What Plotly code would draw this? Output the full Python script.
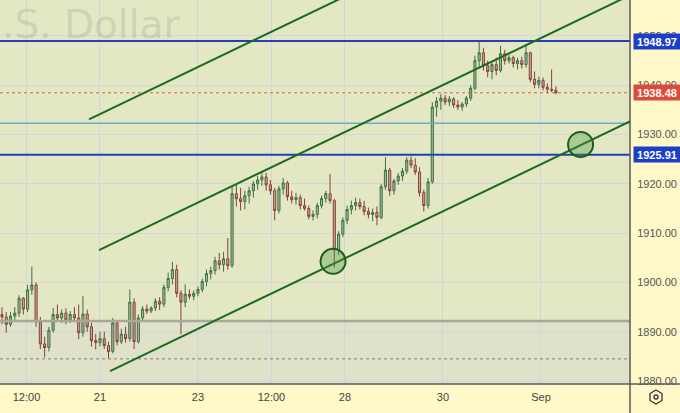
import plotly.graph_objects as go

# ---- data (2-hour bars, index 0 = Aug 21 00:00) ----
bar_index = list(range(-23, 108))

opens = [1893.5, 1893.0, 1891.5, 1893.2, 1893.8, 1896.8, 1894.6, 1898.5, 1899.5, 1892.0,
         1887.5, 1886.8, 1890.3, 1893.5, 1892.8, 1893.8, 1892.4, 1893.5, 1892.8, 1889.8,
         1893.6, 1891.0, 1888.2, 1887.8, 1888.6, 1887.2, 1886.0, 1891.8, 1888.0, 1889.5,
         1888.6, 1896.0, 1888.0, 1892.8, 1894.6, 1894.2, 1894.8, 1896.2, 1895.6, 1899.0,
         1900.8, 1902.6, 1897.8, 1896.0, 1897.6, 1897.2, 1897.8, 1898.6, 1900.2, 1901.8,
         1902.4, 1904.4, 1903.6, 1904.8, 1903.4, 1918.0, 1917.0, 1916.4, 1917.6, 1918.6,
         1920.0, 1920.8, 1921.4, 1919.8, 1918.6, 1914.6, 1919.0, 1920.2, 1917.4, 1916.8,
         1917.2, 1915.6, 1915.0, 1913.4, 1913.8, 1915.6, 1917.0, 1918.0, 1916.6, 1906.6,
         1909.8, 1912.6, 1914.8, 1915.6, 1916.2, 1915.4, 1914.4, 1913.8, 1914.2, 1913.2,
         1919.4, 1922.8, 1918.6, 1920.6, 1921.6, 1922.6, 1924.8, 1923.8, 1922.4, 1918.2,
         1915.6, 1920.4, 1935.6, 1936.8, 1937.4, 1936.6, 1937.2, 1936.0, 1935.6, 1936.2,
         1937.4, 1939.4, 1945.0, 1946.6, 1944.0, 1942.8, 1944.2, 1943.0, 1946.4, 1945.0,
         1945.6, 1944.4, 1945.0, 1944.2, 1946.6, 1941.2, 1940.2, 1941.0, 1939.6, 1939.2, 1939.0]

highs = [1895.0, 1894.0, 1894.0, 1895.0, 1897.4, 1897.0, 1899.5, 1903.2, 1900.0, 1893.0,
         1889.0, 1891.0, 1894.8, 1895.5, 1894.5, 1894.8, 1894.2, 1895.0, 1895.5, 1897.2,
         1894.5, 1891.8, 1889.6, 1890.0, 1890.0, 1888.0, 1892.8, 1892.2, 1890.6, 1891.0,
         1898.6, 1896.8, 1893.5, 1895.2, 1895.5, 1895.2, 1896.8, 1897.0, 1899.6, 1902.0,
         1904.2, 1903.6, 1898.4, 1899.6, 1898.6, 1898.4, 1899.2, 1900.8, 1902.6, 1903.2,
         1905.2, 1906.0, 1906.2, 1909.0, 1919.4, 1920.0, 1919.2, 1918.6, 1919.4, 1920.6,
         1921.6, 1922.6, 1922.2, 1920.8, 1919.2, 1919.6, 1921.2, 1920.6, 1918.6, 1918.2,
         1917.8, 1917.0, 1915.6, 1914.6, 1916.2, 1917.6, 1918.6, 1922.0, 1917.0, 1910.4,
         1913.2, 1915.6, 1916.6, 1917.2, 1917.0, 1916.6, 1915.2, 1915.0, 1915.4, 1920.0,
         1925.4, 1923.2, 1921.0, 1922.2, 1923.2, 1925.4, 1925.6, 1925.2, 1923.4, 1918.8,
         1921.2, 1936.6, 1937.6, 1938.2, 1938.0, 1937.8, 1937.6, 1937.0, 1936.6, 1937.8,
         1940.0, 1946.0, 1949.0, 1947.6, 1945.0, 1944.8, 1945.6, 1948.0, 1947.2, 1946.2,
         1946.0, 1945.6, 1945.8, 1948.4, 1946.8, 1942.8, 1941.8, 1941.6, 1940.4, 1943.2, 1939.8]

lows = [1891.5, 1889.8, 1891.0, 1892.0, 1893.0, 1893.5, 1894.0, 1897.5, 1891.0, 1886.5,
        1884.8, 1886.0, 1889.8, 1892.0, 1891.8, 1891.5, 1891.8, 1892.2, 1888.5, 1889.0,
        1890.0, 1887.0, 1886.4, 1887.0, 1886.5, 1884.6, 1885.6, 1887.2, 1887.5, 1887.8,
        1888.0, 1886.5, 1887.6, 1892.0, 1893.6, 1893.8, 1894.2, 1894.4, 1895.0, 1898.2,
        1899.6, 1897.0, 1889.5, 1895.0, 1896.6, 1896.4, 1897.2, 1898.0, 1899.2, 1900.6,
        1901.6, 1902.6, 1902.2, 1902.6, 1903.0, 1915.4, 1914.6, 1914.8, 1916.0, 1917.2,
        1918.8, 1919.6, 1918.6, 1917.8, 1912.6, 1914.0, 1917.8, 1916.6, 1916.0, 1915.8,
        1914.8, 1914.6, 1912.8, 1912.6, 1913.0, 1915.0, 1916.2, 1916.0, 1903.0, 1905.6,
        1909.2, 1911.8, 1913.8, 1914.6, 1914.8, 1913.6, 1913.0, 1912.4, 1911.6, 1912.8,
        1918.8, 1917.6, 1917.8, 1919.8, 1920.6, 1922.0, 1923.2, 1921.8, 1917.4, 1914.4,
        1915.0, 1920.0, 1933.6, 1935.0, 1936.0, 1935.8, 1935.4, 1935.0, 1934.8, 1935.6,
        1936.8, 1939.0, 1943.4, 1943.0, 1941.6, 1941.2, 1942.0, 1942.6, 1944.2, 1944.4,
        1943.6, 1943.2, 1943.4, 1943.6, 1940.6, 1939.4, 1939.4, 1939.0, 1938.4, 1938.6, 1938.2]

closes = [1893.0, 1891.5, 1893.2, 1893.8, 1896.8, 1894.6, 1898.5, 1899.5, 1892.0, 1887.5,
          1886.8, 1890.3, 1893.5, 1892.8, 1893.8, 1892.4, 1893.5, 1892.8, 1889.8, 1893.6,
          1891.0, 1888.2, 1887.8, 1888.6, 1887.2, 1886.0, 1891.8, 1888.0, 1889.5, 1888.6,
          1896.0, 1888.0, 1892.8, 1894.6, 1894.2, 1894.8, 1896.2, 1895.6, 1899.0, 1900.8,
          1902.6, 1897.8, 1896.0, 1897.6, 1897.2, 1897.8, 1898.6, 1900.2, 1901.8, 1902.4,
          1904.4, 1903.6, 1904.8, 1903.4, 1918.0, 1917.0, 1916.4, 1917.6, 1918.6, 1920.0,
          1920.8, 1921.4, 1919.8, 1918.6, 1914.6, 1919.0, 1920.2, 1917.4, 1916.8, 1917.2,
          1915.6, 1915.0, 1913.4, 1913.8, 1915.6, 1917.0, 1918.0, 1916.6, 1906.6, 1909.8,
          1912.6, 1914.8, 1915.6, 1916.2, 1915.4, 1914.4, 1913.8, 1914.2, 1913.2, 1919.4,
          1922.8, 1918.6, 1920.6, 1921.6, 1922.6, 1924.8, 1923.8, 1922.4, 1918.2, 1915.6,
          1920.4, 1935.6, 1936.8, 1937.4, 1936.6, 1937.2, 1936.0, 1935.6, 1936.2, 1937.4,
          1939.4, 1945.0, 1946.6, 1944.0, 1942.8, 1944.2, 1943.0, 1946.4, 1945.0, 1945.6,
          1944.4, 1945.0, 1944.2, 1946.6, 1941.2, 1940.2, 1941.0, 1939.6, 1939.2, 1939.0, 1938.48]

tick_positions = [-17.25, 0, 23, 40.25, 57.5, 80.5, 103.5]
tick_labels = ["12:00", "21", "23", "12:00", "28", "30", "Sep"]

blue_levels = [1948.97, 1925.91]
teal_level = 1932.3
last_price = 1938.48
gray_level = 1892.2
dotted_level = 1884.5

channel_start_bar = [-2.58, -0.23, 2.35]
channel_start_price = [1933.1, 1906.57, 1882.03]
channel_slope = 0.4148  # price per bar
channel_end_bar = 130

circle_bars = [54.7, 112.8]
circle_prices = [1904.3, 1928.0]

watermark = ".S. Dollar"

# ---- figure ----
FONT = "Liberation Sans"
fig = go.Figure()
fig.add_trace(go.Candlestick(
    x=bar_index, open=opens, high=highs, low=lows, close=closes,
    increasing=dict(line=dict(color="#3d7045", width=1), fillcolor="rgba(165,175,155,0.9)"),
    decreasing=dict(line=dict(color="#8a4038", width=1), fillcolor="rgba(178,168,152,0.9)"),
    whiskerwidth=0, hoverinfo="skip", showlegend=False,
))

shapes = []
shapes.append(dict(type="rect", xref="paper", yref="y", x0=0, x1=1, y0=1870, y1=gray_level,
                   fillcolor="#dfe1c8", line=dict(width=0), layer="below"))
shapes.append(dict(type="line", xref="paper", yref="y", x0=0, x1=1, y0=gray_level, y1=gray_level,
                   line=dict(color="#a9a69a", width=2.5), layer="above"))
shapes.append(dict(type="line", xref="paper", yref="y", x0=0, x1=1, y0=dotted_level, y1=dotted_level,
                   line=dict(color="#7d7d7d", width=1, dash="dot"), layer="above"))
shapes.append(dict(type="line", xref="paper", yref="y", x0=0, x1=1, y0=teal_level, y1=teal_level,
                   line=dict(color="#6aaecb", width=1.5), layer="above"))
shapes.append(dict(type="line", xref="paper", yref="y", x0=0, x1=1, y0=last_price, y1=last_price,
                   line=dict(color="#d9604f", width=1, dash="dot"), layer="above"))
for lv in blue_levels:
    shapes.append(dict(type="line", xref="paper", yref="y", x0=0, x1=1, y0=lv, y1=lv,
                       line=dict(color="#1f3fc0", width=2), layer="above"))
for b0, p0 in zip(channel_start_bar, channel_start_price):
    shapes.append(dict(type="line", xref="x", yref="y", x0=b0, y0=p0, x1=channel_end_bar,
                       y1=p0 + channel_slope * (channel_end_bar - b0),
                       line=dict(color="#1d6b1d", width=2), layer="above"))
for cb, cp in zip(circle_bars, circle_prices):
    shapes.append(dict(type="circle", xref="x", yref="y", xsizemode="pixel", ysizemode="pixel",
                       xanchor=cb, yanchor=cp, x0=-12.5, x1=12.5, y0=-12.5, y1=12.5,
                       fillcolor="rgba(70,150,60,0.35)", line=dict(color="#1d5e1d", width=2),
                       layer="above"))
shapes.append(dict(type="line", xref="paper", yref="paper", x0=1, x1=1, y0=-0.08, y1=1,
                   line=dict(color="#5a5a5a", width=1.5)))
shapes.append(dict(type="line", xref="paper", yref="paper", x0=0, x1=1.08, y0=0, y1=0,
                   line=dict(color="#5a5a5a", width=1.5)))
gx, gy = 656 / 630, (384 - 397) / 384
shapes.append(dict(type="path", xref="paper", yref="paper", xsizemode="pixel", ysizemode="pixel",
                   xanchor=gx, yanchor=gy,
                   path="M 0 7 L 6 3.5 L 6 -3.5 L 0 -7 L -6 -3.5 L -6 3.5 Z",
                   line=dict(color="#333", width=1.3)))
shapes.append(dict(type="circle", xref="paper", yref="paper", xsizemode="pixel", ysizemode="pixel",
                   xanchor=gx, yanchor=gy, x0=-2, x1=2, y0=-2, y1=2,
                   line=dict(color="#333", width=1.3)))

annotations = [
    dict(text=watermark, xref="paper", yref="paper", x=0, y=1.0, xanchor="left", yanchor="top",
         showarrow=False, font=dict(family="DejaVu Sans", size=39, color="rgba(120,125,110,0.2)")),
]
for lv, col in [(blue_levels[0], "#1c3fc8"), (last_price, "#dd4a3b"), (blue_levels[1], "#1c3fc8")]:
    annotations.append(dict(text="<b>%.2f</b>" % lv, xref="paper", yref="y", x=1, y=lv,
                            xanchor="left", yanchor="middle", xshift=3, showarrow=False,
                            bgcolor=col, width=44, height=13, borderpad=1,
                            font=dict(family=FONT, size=11, color="white")))

fig.update_layout(
    width=680, height=413,
    margin=dict(l=0, r=50, t=0, b=29),
    paper_bgcolor="#fff8c8", plot_bgcolor="#e3e7c4",
    font=dict(family=FONT, size=11, color="#555"),
    shapes=shapes, annotations=annotations, showlegend=False,
    xaxis=dict(range=[-23.47, 124.4], tickmode="array", tickvals=tick_positions, ticktext=tick_labels,
               showgrid=True, gridcolor="#cfd7da", gridwidth=1, zeroline=False, showline=False,
               rangeslider=dict(visible=False), ticks="outside", ticklen=3, tickcolor="rgba(0,0,0,0)",
               tickfont=dict(size=11, color="#444"), fixedrange=True),
    yaxis=dict(range=[1879.4, 1957.3], side="right", tick0=1880, dtick=10, tickformat=".2f",
               showgrid=True, gridcolor="#cfd7da", gridwidth=1, zeroline=False, showline=False,
               ticks="outside", ticklen=4, tickcolor="rgba(0,0,0,0)",
               tickfont=dict(size=11, color="#555"), fixedrange=True),
)

fig.write_html("out.html", config={"displayModeBar": False},
               post_script="document.body.style.margin='0';document.body.style.overflow='hidden';")
